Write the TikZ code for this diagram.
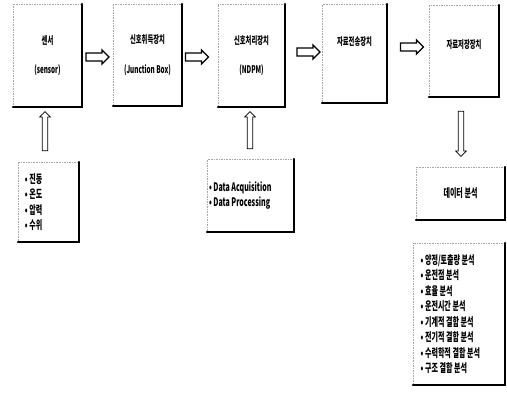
\documentclass[tikz,border=0pt]{standalone}
\usepackage{fontspec}
\setmainfont{Noto Sans CJK KR}[FakeStretch=0.6, WordSpace={1,0,0}]
\usetikzlibrary{shapes.arrows}

\tikzset{
  box/.style={draw=gray!70, densely dotted, line width=0.4pt, inner sep=0pt, align=center,
    font=\bfseries\fontsize{9}{25}\selectfont},
  boxtext/.style={font=\bfseries\fontsize{9}{10}\selectfont, inner sep=0pt},
  listbox/.style={box, align=flush left, font=\bfseries\fontsize{10}{13.2}\selectfont},
  edge/.style={line width=1.4pt, line cap=round},
  harrow/.style={single arrow, draw, line width=1.1pt, fill=white, inner xsep=0pt, inner ysep=0.1cm,
    minimum height=0.69cm, single arrow head extend=0.09cm},
  varrow/.style={single arrow, draw, line width=0.6pt, fill=white, inner xsep=0pt, inner ysep=0.07cm,
    single arrow head extend=0.08cm}
}

\begin{document}
\begin{tikzpicture}[x=0.03cm, y=-0.03cm]
\useasboundingbox (0,0) rectangle (507,396);

\node[box, minimum width=2.07cm, minimum height=3.09cm] (sensor) at (47.5,55.5) {센서\\(sensor)};
\node[box, minimum width=2.07cm, minimum height=3.06cm] (jbox) at (147.5,55) {신호취득장치\\(Junction Box)};
\node[box, minimum width=2.01cm, minimum height=3.09cm] (proc) at (251.5,55.5) {신호처리장치\\(NDPM)};
\node[box, minimum width=1.95cm, minimum height=2.97cm] (send) at (354.5,53.5) {};
\node[boxtext] (sendtext) at (354.5,42) {자료전송장치};
\node[box, minimum width=2.1cm, minimum height=2.76cm] (store) at (464,51) {};
\node[boxtext] (storetext) at (464,45) {자료저장장치};

\node[harrow] (a1) at (95.5,57) {};
\node[harrow] (a2) at (195,57) {};
\node[harrow] (a3) at (306.5,52) {};
\node[harrow] (a4) at (410,47) {};

\node[varrow, rotate=90, minimum height=1.17cm] (u1) at (45,132.5) {};
\node[varrow, rotate=90, minimum height=1.11cm] (u2) at (250,131.5) {};
\node[varrow, rotate=-90, minimum height=1.35cm] (d1) at (461,132.5) {};

\node[listbox, minimum height=2.4cm, inner xsep=0.21cm, text width=1.41cm] (senslist) at (48.5,202)
  {• 진동\\• 온도\\• 압력\\• 수위};
\node[listbox, minimum height=2.19cm, inner xsep=0.06cm, text width=2.49cm] (datalist) at (250.5,195.5)
  {• Data Acquisition\\• Data Processing};
\node[box, font=\bfseries\fontsize{10}{12}\selectfont, minimum width=2.67cm, minimum height=1.59cm] (anabox)
  at (460.5,193.5) {데이터 분석};
\node[listbox, minimum height=4.26cm, inner xsep=0.23cm, text width=2.3cm] (analist) at (459,314)
  {• 양정/토출량 분석\\• 운전점 분석\\• 효율 분석\\• 운전시간 분석\\• 기계적 결함 분석\\• 전기적 결함 분석\\• 수력학적 결함 분석\\• 구조 결함 분석};

\foreach \n in {sensor,jbox,proc,send,store,senslist,datalist,anabox,analist}
  \draw[edge] (\n.south west) -- (\n.south east) -- (\n.north east);
\end{tikzpicture}
\end{document}
